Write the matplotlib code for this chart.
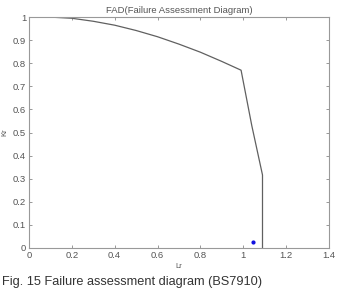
import matplotlib
matplotlib.use("Agg")
import matplotlib.pyplot as plt

lr = [0.10, 0.20, 0.30, 0.40, 0.50, 0.60, 0.70, 0.80, 0.90, 0.99, 1.04, 1.09, 1.09]
kr = [1.00, 0.995, 0.982, 0.965, 0.942, 0.915, 0.883, 0.848, 0.808, 0.77, 0.53, 0.316, 0.0]
pt_lr = [1.047]
pt_kr = [0.027]
xticks = [0, 0.2, 0.4, 0.6, 0.8, 1, 1.2, 1.4]
yticks = [0, 0.1, 0.2, 0.3, 0.4, 0.5, 0.6, 0.7, 0.8, 0.9, 1]

plt.rcParams['font.family'] = ['Liberation Sans', 'DejaVu Sans']
fig = plt.figure(figsize=(3.37, 2.9), dpi=100)
ax = fig.add_axes([0.086, 0.145, 0.890, 0.796])
ax.plot(lr, kr, color='#606060', lw=0.9)
ax.plot(pt_lr, pt_kr, 'o', color='#1010e0', ms=2.0)
ax.set_xlim(0, 1.4)
ax.set_ylim(0, 1)
ax.set_xticks(xticks)
ax.set_xticklabels(['0', '0.2', '0.4', '0.6', '0.8', '1', '1.2', '1.4'])
ax.set_yticks(yticks)
ax.set_yticklabels(['0', '0.1', '0.2', '0.3', '0.4', '0.5', '0.6', '0.7', '0.8', '0.9', '1'])
ax.tick_params(direction='in', top=True, right=True, length=2.5, width=0.6,
               colors='#888888', labelcolor='#555555', labelsize=6.8, pad=2)
for s in ax.spines.values():
    s.set_color('#999999')
    s.set_linewidth(0.8)
ax.set_title('FAD(Failure Assessment Diagram)', fontsize=6.8, color='#555555', pad=3)
ax.set_xlabel('Lr', fontsize=5.5, color='#555555', labelpad=2)
ax.set_ylabel('Kr', fontsize=5.5, color='#555555', labelpad=3)
fig.text(0.006, 0.008, 'Fig. 15 Failure assessment diagram (BS7910)', fontsize=9.2,
         color='#333333', ha='left', va='bottom')
fig.savefig('out.png', dpi=100)
